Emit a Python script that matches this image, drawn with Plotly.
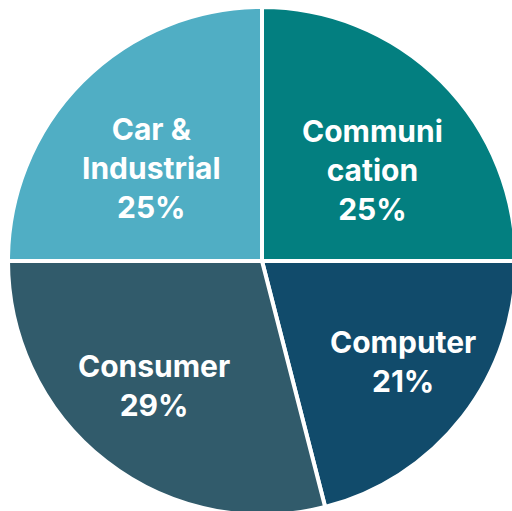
import plotly.graph_objects as go

# Market segment shares (percent), listed clockwise from 12 o'clock
segments = ["Communication", "Computer", "Consumer", "Car & Industrial"]
segment_labels = ["Communi<br>cation", "Computer", "Consumer", "Car &<br>Industrial"]
shares = [25, 21, 29, 25]
colors = ["#037F80", "#114B6B", "#315B6B", "#50AEC4"]

FIG_W, FIG_H = 516, 515
# Label anchor points inside each slice (pixels from the top-left corner)
label_xy = [(372, 170), (403, 361), (154, 385), (151, 168)]

fig = go.Figure(
    go.Pie(
        labels=segments,
        values=shares,
        textinfo="none",
        marker=dict(colors=colors, line=dict(color="white", width=4)),
        sort=False,
        direction="clockwise",
        rotation=0,
        hole=0,
        showlegend=False,
        hoverinfo="label+percent",
        domain=dict(x=[8 / FIG_W, 1], y=[0, 1 - 7 / FIG_H]),
    )
)

for lab, val, (px, py) in zip(segment_labels, shares, label_xy):
    fig.add_annotation(
        text=f"{lab}<br>{val}%",
        x=px / FIG_W,
        y=1 - py / FIG_H,
        xref="paper",
        yref="paper",
        xanchor="center",
        yanchor="middle",
        align="center",
        showarrow=False,
        font=dict(family="Inter", size=30, color="white", weight="bold"),
    )

# The disc runs slightly past the right and bottom edges of the page
fig.update_layout(
    width=FIG_W,
    height=FIG_H,
    margin=dict(l=0, r=0, t=0, b=0),
    paper_bgcolor="white",
    plot_bgcolor="white",
)

fig.write_html(
    "out.html",
    post_script="document.body.style.margin='0';document.body.style.overflow='hidden';",
)
